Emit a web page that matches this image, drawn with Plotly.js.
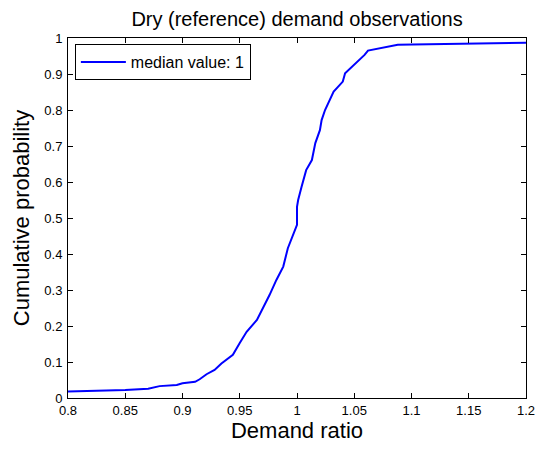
<!DOCTYPE html>
<html>
<head>
<meta charset="utf-8">
<script src="https://cdn.plot.ly/plotly-3.0.1.min.js"></script>
<style>html,body{margin:0;padding:0;background:#fff;}#chart{width:544px;height:449px;}</style>
</head>
<body>
<div id="chart"></div>
<script>
const demandRatio = [0.800, 0.850, 0.870, 0.875, 0.880, 0.895, 0.900, 0.911, 0.915, 0.921, 0.928, 0.934, 0.940, 0.944, 0.950,
  0.956, 0.965, 0.971, 0.976, 0.982, 0.988, 0.992, 0.997, 1.000, 1.000, 1.001, 1.004, 1.008, 1.013, 1.016, 1.020,
  1.0215, 1.0245, 1.029, 1.032, 1.036, 1.040, 1.042, 1.048, 1.055, 1.059, 1.062, 1.075, 1.088, 1.101, 1.148, 1.200];
const cumProb = [0.018, 0.022, 0.026, 0.030, 0.033, 0.036, 0.041, 0.045, 0.052, 0.066, 0.078, 0.096, 0.112, 0.120, 0.153,
  0.184, 0.217, 0.254, 0.286, 0.328, 0.365, 0.416, 0.457, 0.481, 0.531, 0.550, 0.587, 0.633, 0.661, 0.708, 0.744,
  0.772, 0.800, 0.828, 0.851, 0.865, 0.879, 0.902, 0.920, 0.939, 0.953, 0.965, 0.974, 0.981, 0.982, 0.984, 0.987];
const seriesName = 'median value: 1';
const xTicks = [0.8, 0.85, 0.9, 0.95, 1, 1.05, 1.1, 1.15, 1.2];
const xTickText = ['0.8', '0.85', '0.9', '0.95', '1', '1.05', '1.1', '1.15', '1.2'];
const yTicks = [0, 0.1, 0.2, 0.3, 0.4, 0.5, 0.6, 0.7, 0.8, 0.9, 1];
const yTickText = ['0', '0.1', '0.2', '0.3', '0.4', '0.5', '0.6', '0.7', '0.8', '0.9', '1'];

const font = 'Liberation Sans, Arial, sans-serif';
const axisCommon = {
  showline: true, linecolor: '#000', linewidth: 1, mirror: 'ticks',
  ticks: 'inside', ticklen: 5, tickcolor: '#000', tickwidth: 1,
  showgrid: false, zeroline: false, tickmode: 'array',
  tickfont: {family: font, size: 13, color: '#000'}
};
Plotly.newPlot('chart', [{
  x: demandRatio, y: cumProb, type: 'scatter', mode: 'lines', name: seriesName,
  line: {color: '#0000ff', width: 2}
}], {
  width: 544, height: 449,
  margin: {l: 68, r: 18, t: 38, b: 51},
  paper_bgcolor: '#fff', plot_bgcolor: '#fff',
  title: {text: 'Dry (reference) demand observations', font: {family: font, size: 20, color: '#000'},
    x: 0.546, xanchor: 'center', y: 0.958, yanchor: 'middle'},
  showlegend: true,
  legend: {x: 0.015, y: 0.983, xanchor: 'left', yanchor: 'top', bordercolor: '#000', borderwidth: 1, bgcolor: '#fff',
    font: {family: font, size: 16, color: '#000'}, tracegroupgap: 0, itemwidth: 45},
  xaxis: Object.assign({}, axisCommon, {range: [0.8, 1.2], tickvals: xTicks, ticktext: xTickText,
    title: {text: 'Demand ratio', font: {family: font, size: 22, color: '#000'}, standoff: 6}}),
  yaxis: Object.assign({}, axisCommon, {range: [0, 1], tickvals: yTicks, ticktext: yTickText, ticklabelstandoff: 2,
    title: {text: 'Cumulative probability', font: {family: font, size: 22, color: '#000'}, standoff: 8}})
}, {displayModeBar: false, staticPlot: true});
</script>
</body>
</html>
